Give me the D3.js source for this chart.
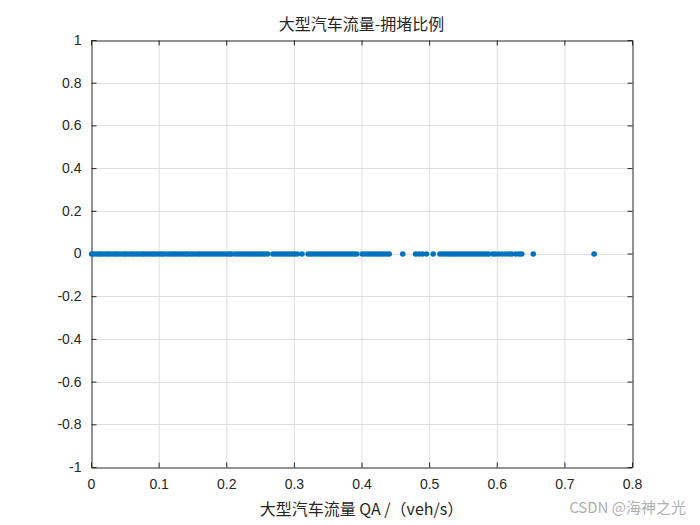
<!DOCTYPE html>
<html><head><meta charset="utf-8">
<script src="https://cdn.jsdelivr.net/npm/d3@7"></script>
<style>body{margin:0;background:#fff;}svg{display:block;}</style>
</head><body>
<svg id="c" width="700" height="525"></svg>
<script>
const titleText = "大型汽车流量-拥堵比例";
const xLabel = "大型汽车流量 QA /（veh/s）";
const watermark = "CSDN @海神之光";
const xTicks = [0,0.1,0.2,0.3,0.4,0.5,0.6,0.7,0.8];
const yTicks = [-1,-0.8,-0.6,-0.4,-0.2,0,0.2,0.4,0.6,0.8,1];
const flowQA = [
0.001,0.004,0.008,0.012,0.015,0.019,0.023,0.026,0.030,0.034,0.037,0.041,0.045,0.049,0.052,0.056,0.060,0.063,0.067,0.071,0.075,0.078,0.082,0.086,0.090,0.093,0.097,0.101,0.105,0.108,
0.113,0.117,0.121,0.124,0.128,0.132,0.136,0.140,0.143,0.147,0.151,0.155,0.159,0.162,0.166,0.170,0.174,0.178,0.182,0.186,0.190,0.194,0.198,0.202,0.205,0.208,
0.213,0.217,0.221,0.225,0.229,0.233,0.237,0.241,0.245,0.249,0.253,0.257,0.261,
0.269,0.273,0.277,0.281,0.285,0.289,0.293,0.297,0.301,0.305,
0.312,
0.321,0.325,0.329,0.333,0.337,0.341,0.345,0.349,0.353,0.357,0.361,0.365,0.369,0.373,0.377,0.381,0.385,0.389,0.393,
0.401,0.405,0.409,0.413,0.417,0.421,0.425,0.429,0.433,0.437,0.441,
0.461,
0.480,0.485,0.490,0.496,
0.506,
0.516,0.520,0.524,0.528,0.532,0.536,0.540,0.544,0.548,0.552,0.556,0.560,0.564,0.568,0.572,0.576,0.580,0.584,0.588,
0.594,0.598,0.603,0.608,0.613,0.618,0.622,
0.628,0.633,0.637,
0.654,
0.744];
const congestion = flowQA.map(() => 0);

const svg = d3.select("#c");
const L = 91, R = 632, T = 40, B = 467;
const x = d3.scaleLinear().domain([0,0.8]).range([L,R]);
const y = d3.scaleLinear().domain([-1,1]).range([B,T]);
const font = "'Liberation Sans', Arial, sans-serif";
const cjk = "'Noto Sans CJK SC', 'Liberation Sans', sans-serif";
const fmt = d => String(+d.toFixed(2));

svg.append("rect").attr("x",0).attr("y",0).attr("width",700).attr("height",525).attr("fill","#fff");

// grid
svg.append("g").selectAll("line").data(xTicks.slice(1,-1)).join("line")
  .attr("x1",d=>x(d)+0.5).attr("x2",d=>x(d)+0.5).attr("y1",T).attr("y2",B)
  .attr("stroke","#dfdfdf").attr("stroke-width",1);
svg.append("g").selectAll("line").data(yTicks.slice(1,-1)).join("line")
  .attr("y1",d=>Math.round(y(d))+0.5).attr("y2",d=>Math.round(y(d))+0.5).attr("x1",L).attr("x2",R)
  .attr("stroke","#dfdfdf").attr("stroke-width",1);

// axes
const xa = svg.append("g").attr("transform",`translate(0,${B+0.5})`)
  .call(d3.axisBottom(x).tickValues(xTicks).tickSizeInner(-5).tickSizeOuter(0).tickPadding(12).tickFormat(fmt));
const xat = svg.append("g").attr("transform",`translate(0,${T+0.5})`)
  .call(d3.axisTop(x).tickValues(xTicks).tickSizeInner(-5).tickSizeOuter(0).tickFormat(""));
const ya = svg.append("g").attr("transform",`translate(${L+0.5},0)`)
  .call(d3.axisLeft(y).tickValues(yTicks).tickSizeInner(-5).tickSizeOuter(0).tickPadding(10).tickFormat(fmt));
const yar = svg.append("g").attr("transform",`translate(${R+0.5},0)`)
  .call(d3.axisRight(y).tickValues(yTicks).tickSizeInner(-5).tickSizeOuter(0).tickFormat(""));
[xa,xat,ya,yar].forEach(g=>{
  g.selectAll("path,line").attr("stroke","#262626");
  g.selectAll("text").attr("fill","#262626").style("font-family",font).style("font-size","14px");
});

// points
svg.append("g").selectAll("circle").data(flowQA).join("circle")
  .attr("cx",d=>x(d)).attr("cy",(d,i)=>y(congestion[i])+0.5).attr("r",2.8)
  .attr("fill","#0072BD");

// title
svg.append("text").attr("x",(L+R)/2).attr("y",30).attr("text-anchor","middle")
  .style("font-family",cjk).style("font-size","16px").attr("fill","#262626").text(titleText);
svg.append("text").attr("x",(L+R)/2).attr("y",515).attr("text-anchor","middle")
  .style("font-family",cjk).style("font-size","16px").attr("fill","#262626").text(xLabel);
svg.append("text").attr("x",686).attr("y",513).attr("text-anchor","end")
  .style("font-family",cjk).style("font-size","15px").attr("fill","#b0b0b0").text(watermark);
</script>
</body></html>
